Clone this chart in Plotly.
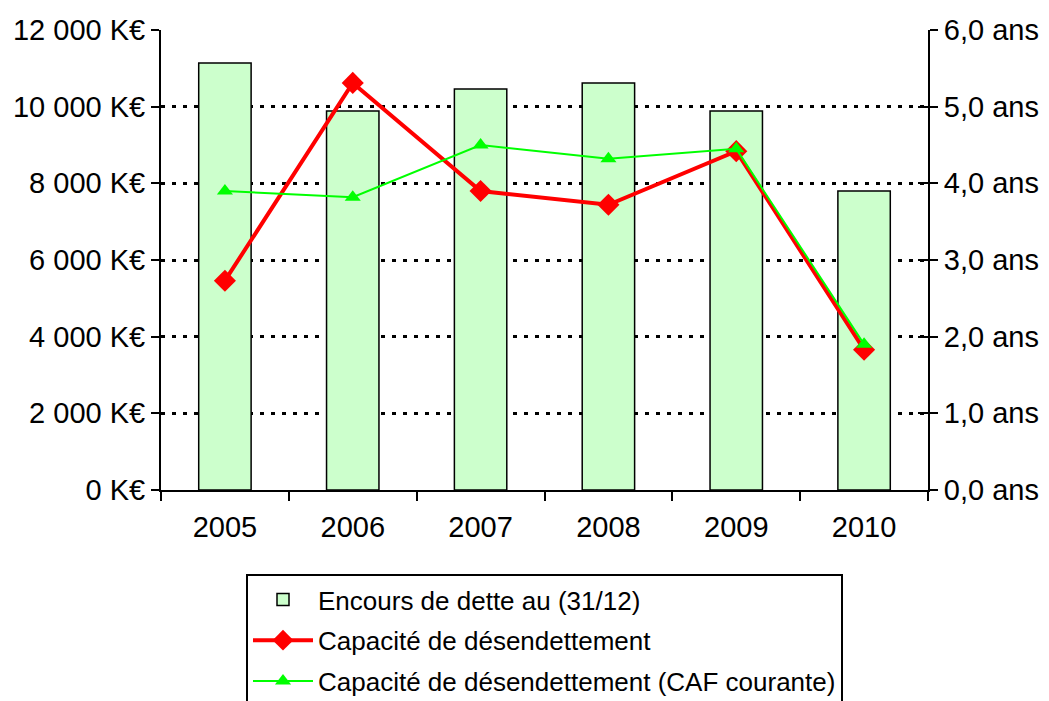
import plotly.graph_objects as go

years = ["2005", "2006", "2007", "2008", "2009", "2010"]
encours = [11140, 9890, 10460, 10620, 9890, 7800]
capacite = [2.73, 5.31, 3.90, 3.72, 4.42, 1.83]
capacite_caf = [3.90, 3.82, 4.50, 4.32, 4.45, 1.90]

left_tickvals = [0, 2000, 4000, 6000, 8000, 10000, 12000]
left_ticktext = ["0 K€", "2 000 K€", "4 000 K€", "6 000 K€", "8 000 K€", "10 000 K€", "12 000 K€"]
right_tickvals = [0, 1, 2, 3, 4, 5, 6]
right_ticktext = ["0,0 ans", "1,0 ans", "2,0 ans", "3,0 ans", "4,0 ans", "5,0 ans", "6,0 ans"]

names = ["Encours de dette au (31/12)", "Capacité de désendettement",
         "Capacité de désendettement (CAF courante)"]

FONT = "Liberation Sans, Arial, sans-serif"
TICKSIZE = 29

fig = go.Figure()
fig.add_trace(go.Bar(
    x=years, y=encours, name=names[0], legendgroup="a",
    marker=dict(color="#CCFFCC", line=dict(color="black", width=1.5)),
))
fig.add_trace(go.Scatter(
    x=years, y=capacite, name=names[1], yaxis="y2", legendgroup="b",
    mode="lines+markers",
    line=dict(color="#FF0000", width=4),
    marker=dict(symbol="diamond", size=17, color="#FF0000"),
))
fig.add_trace(go.Scatter(
    x=years, y=capacite_caf, name=names[2], yaxis="y2", legendgroup="c",
    mode="lines+markers",
    line=dict(color="#00FF00", width=2),
    marker=dict(symbol="triangle-up", size=14, color="#00FF00"),
))
# dummy trace to anchor the inner-tick overlay axis
fig.add_trace(go.Scatter(x=years, y=[None] * len(years), yaxis="y3",
                         showlegend=False, hoverinfo="skip"))

fig.update_layout(
    width=1041, height=693,
    margin=dict(l=153, r=121, t=22, b=211, autoexpand=False),
    paper_bgcolor="white", plot_bgcolor="white",
    font=dict(family=FONT, size=TICKSIZE, color="black"),
    bargap=0.59,
    showlegend=True,
    legend=dict(
        x=(246 - 161) / 767, xanchor="left",
        y=(490 - 574) / 460, yanchor="top",
        bordercolor="black", borderwidth=2,
        font=dict(family=FONT, size=26, color="black"),
        tracegroupgap=4,
        itemwidth=60,
        bgcolor="white",
    ),
    xaxis=dict(
        type="category",
        showline=True, linecolor="black", linewidth=2,
        ticks="outside", ticklen=9, tickwidth=2, tickcolor="black",
        tickson="boundaries",
        showgrid=False,
        tickfont=dict(size=TICKSIZE),
        ticklabelstandoff=10,
    ),
    yaxis=dict(
        range=[0, 12000],
        tickvals=left_tickvals, ticktext=left_ticktext,
        showline=True, linecolor="black", linewidth=2,
        ticks="outside", ticklen=8, tickwidth=2, tickcolor="black",
        showgrid=True, gridcolor="black", gridwidth=2.5,
        griddash="4px,7px",
        zeroline=False,
        tickfont=dict(size=TICKSIZE),
    ),
    yaxis2=dict(
        range=[0, 6], overlaying="y", side="right",
        tickvals=right_tickvals, ticktext=right_ticktext,
        showline=True, linecolor="black", linewidth=2,
        ticks="outside", ticklen=8, tickwidth=2, tickcolor="black",
        showgrid=False, zeroline=False,
        tickfont=dict(size=TICKSIZE),
    ),
    yaxis3=dict(
        range=[0, 6], overlaying="y", side="right",
        tickvals=right_tickvals, showticklabels=False,
        showline=False,
        ticks="inside", ticklen=10, tickwidth=2, tickcolor="black",
        showgrid=False, zeroline=False,
    ),
)

fig.write_html("out.html")
